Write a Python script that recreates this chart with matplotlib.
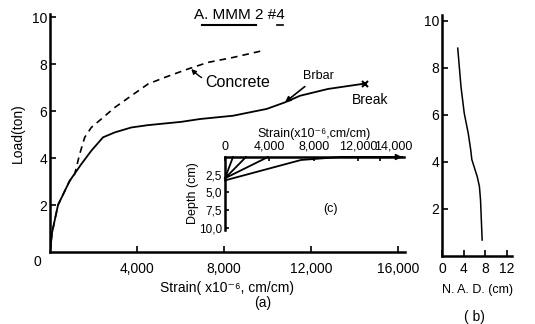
import matplotlib.pyplot as plt
from matplotlib.lines import Line2D
from matplotlib.transforms import ScaledTranslation

plt.rcParams['font.family'] = ['Liberation Sans', 'DejaVu Sans']

W, H = 535, 324

# (a) load vs strain at midspan
steel_strain = [0, 92, 368, 906, 1439, 1899, 2437, 2975, 3738, 4506, 6037, 6897,
                8414, 9963, 10805, 11495, 12782, 14484]
steel_load = [0, 0.81, 2.0, 3.03, 3.74, 4.31, 4.88, 5.09, 5.30, 5.40, 5.54, 5.66,
              5.80, 6.09, 6.37, 6.65, 6.94, 7.17]
conc_strain = [0, 92, 368, 906, 1136, 1366, 1596, 1899, 2359, 2975, 3738, 4506,
               5274, 6345, 7265, 8414, 9733]
conc_load = [0, 0.81, 2.0, 3.03, 3.32, 4.17, 4.88, 5.30, 5.66, 6.15, 6.65, 7.15,
             7.43, 7.79, 8.07, 8.28, 8.56]
break_strain, break_load = 14484, 7.17

# (b) neutral axis depth vs load
nad_cm = [2.9, 3.5, 4.1, 4.85, 5.3, 5.5, 6.5, 6.9, 7.1, 7.4]
nad_load = [8.84, 7.2, 6.07, 5.2, 4.5, 4.1, 3.37, 2.95, 2.38, 0.68]

# (c) strain distribution over depth
profile_strain = [[0, 720], [0, 1890], [0, 3870], [0, 6850, 10360, 15950]]
profile_depth = [[3.0, 0], [3.0, 0], [3.0, 0], [3.3, 0.42, 0, 0]]

main_ticks = [4000, 8000, 12000, 16000]
main_labels = ['4,000', '8,000', '12,000', '16,000']
inset_ticks = [0, 4000, 8000, 12000, 14000]
inset_labels = ['0', '4,000', '8,000', '12,000', '14,000']
depth_ticks = [2.5, 5.0, 7.5, 10.0]
depth_labels = ['2,5', '5,0', '7,5', '10,0']


def px_axes(fig, left, top, right, bottom):
    return fig.add_axes([left / W, 1 - bottom / H, (right - left) / W, (bottom - top) / H])


fig = plt.figure(figsize=(W / 100, H / 100), dpi=100)

# ---- (a)
ax = px_axes(fig, 50, 14, 405, 252)
ax.plot(steel_strain, steel_load, color='k', lw=1.3)
ax.plot(conc_strain, conc_load, color='k', lw=1.2, ls=(0, (4, 3)))
ax.plot(break_strain, break_load, marker='x', color='k', ms=5, mew=1.5)
ax.set_xlim(0, 16322)
ax.set_ylim(0, 10.13)
for s in ['top', 'right']:
    ax.spines[s].set_visible(False)
for s in ['left', 'bottom']:
    ax.spines[s].set_linewidth(1.8)
ax.set_xticks(main_ticks)
ax.set_xticklabels(main_labels)
ax.set_yticks([2, 4, 6, 8, 10])
ax.tick_params(direction='in', length=4, width=1.2, labelsize=10)
ax.tick_params(axis='x', pad=7)
ax.tick_params(axis='y', pad=2)
ax.set_ylabel('Load(ton)', fontsize=10, labelpad=5)
ax.set_xlabel('Strain( x10⁻⁶, cm/cm)', fontsize=10, labelpad=4)
ax.annotate('0', xy=(0, 0), xytext=(-13, -10), textcoords='offset pixels',
            ha='center', va='center', fontsize=10)
ax.annotate('Concrete', xy=(6497, 7.79), xytext=(7150, 7.23), ha='left', va='center',
            fontsize=11.5,
            arrowprops=dict(arrowstyle='-|>', connectionstyle='arc3,rad=-0.3', lw=1,
                            color='k', shrinkA=1, shrinkB=0, mutation_scale=7))
ax.annotate('Brbar', xy=(10805, 6.37), xytext=(12323, 7.49), ha='center', va='center',
            fontsize=9,
            arrowprops=dict(arrowstyle='-|>', lw=1.2, color='k', shrinkA=2, shrinkB=0,
                            mutation_scale=8))
ax.text(14713, 6.47, 'Break', ha='center', va='center', fontsize=10)
fig.text(263 / W, 1 - 303 / H, '(a)', ha='center', va='center', fontsize=10)

# ---- (b)
axb = px_axes(fig, 442, 15, 512, 256)
axb.plot(nad_cm, nad_load, color='k', lw=1.1)
axb.set_xlim(0, 12.9)
axb.set_ylim(0, 10.25)
for s in ['top', 'right']:
    axb.spines[s].set_visible(False)
for s in ['left', 'bottom']:
    axb.spines[s].set_linewidth(1.8)
axb.set_xticks([0, 4, 8, 12])
axb.set_yticks([2, 4, 6, 8, 10])
axb.tick_params(direction='in', length=4, width=1.2, labelsize=10)
axb.tick_params(axis='x', pad=4)
axb.tick_params(axis='y', pad=2)
axb.set_xlabel('N. A. D. (cm)', fontsize=9, labelpad=6)
fig.text(474 / W, 1 - 317 / H, '( b)', ha='center', va='center', fontsize=10)

# ---- (c) inset
axc = px_axes(fig, 225, 157, 404, 230)
for xs, ds in zip(profile_strain, profile_depth):
    axc.plot(xs, ds, color='k', lw=1.3, clip_on=False)
axc.annotate('', xy=(profile_strain[3][-1], 0), xytext=(profile_strain[3][-2], 0),
             arrowprops=dict(arrowstyle='-|>', lw=1.3, color='k', shrinkA=0, shrinkB=0,
                             mutation_scale=8), annotation_clip=False)
axc.set_xlim(0, 16126)
axc.set_ylim(10.3, 0)
for s in ['bottom', 'right']:
    axc.spines[s].set_visible(False)
for s in ['left', 'top']:
    axc.spines[s].set_linewidth(1.8)
axc.xaxis.tick_top()
axc.xaxis.set_label_position('top')
axc.set_xticks(inset_ticks)
axc.set_xticklabels(inset_labels)
axc.set_yticks(depth_ticks)
axc.set_yticklabels(depth_labels)
axc.tick_params(direction='in', length=3, width=1.2, labelsize=9)
axc.tick_params(axis='y', labelsize=8.5)
axc.tick_params(axis='x', pad=3)
axc.tick_params(axis='y', pad=2)
axc.set_xlabel('Strain(x10⁻⁶,cm/cm)', fontsize=9, labelpad=3)
axc.set_ylabel('Depth (cm)', fontsize=9, labelpad=0)
axc.text(330 / W, 1 - 209 / H, '(c)', transform=fig.transFigure, ha='center',
         va='center', fontsize=9)

# title with underline
fig.text(239 / W, 1 - 15 / H, 'A. MMM 2 #4', ha='center', va='center', fontsize=11)
fig.add_artist(Line2D([202 / W, 256 / W], [1 - 25 / H] * 2, color='k', lw=1.5))
fig.add_artist(Line2D([277 / W, 283 / W], [1 - 25 / H] * 2, color='k', lw=1.2))

fig.canvas.draw()
lbls = axc.get_xticklabels()
lbls[-1].set_transform(lbls[-1].get_transform() + ScaledTranslation(0.13, 0, fig.dpi_scale_trans))

fig.savefig('out.png', dpi=100)
